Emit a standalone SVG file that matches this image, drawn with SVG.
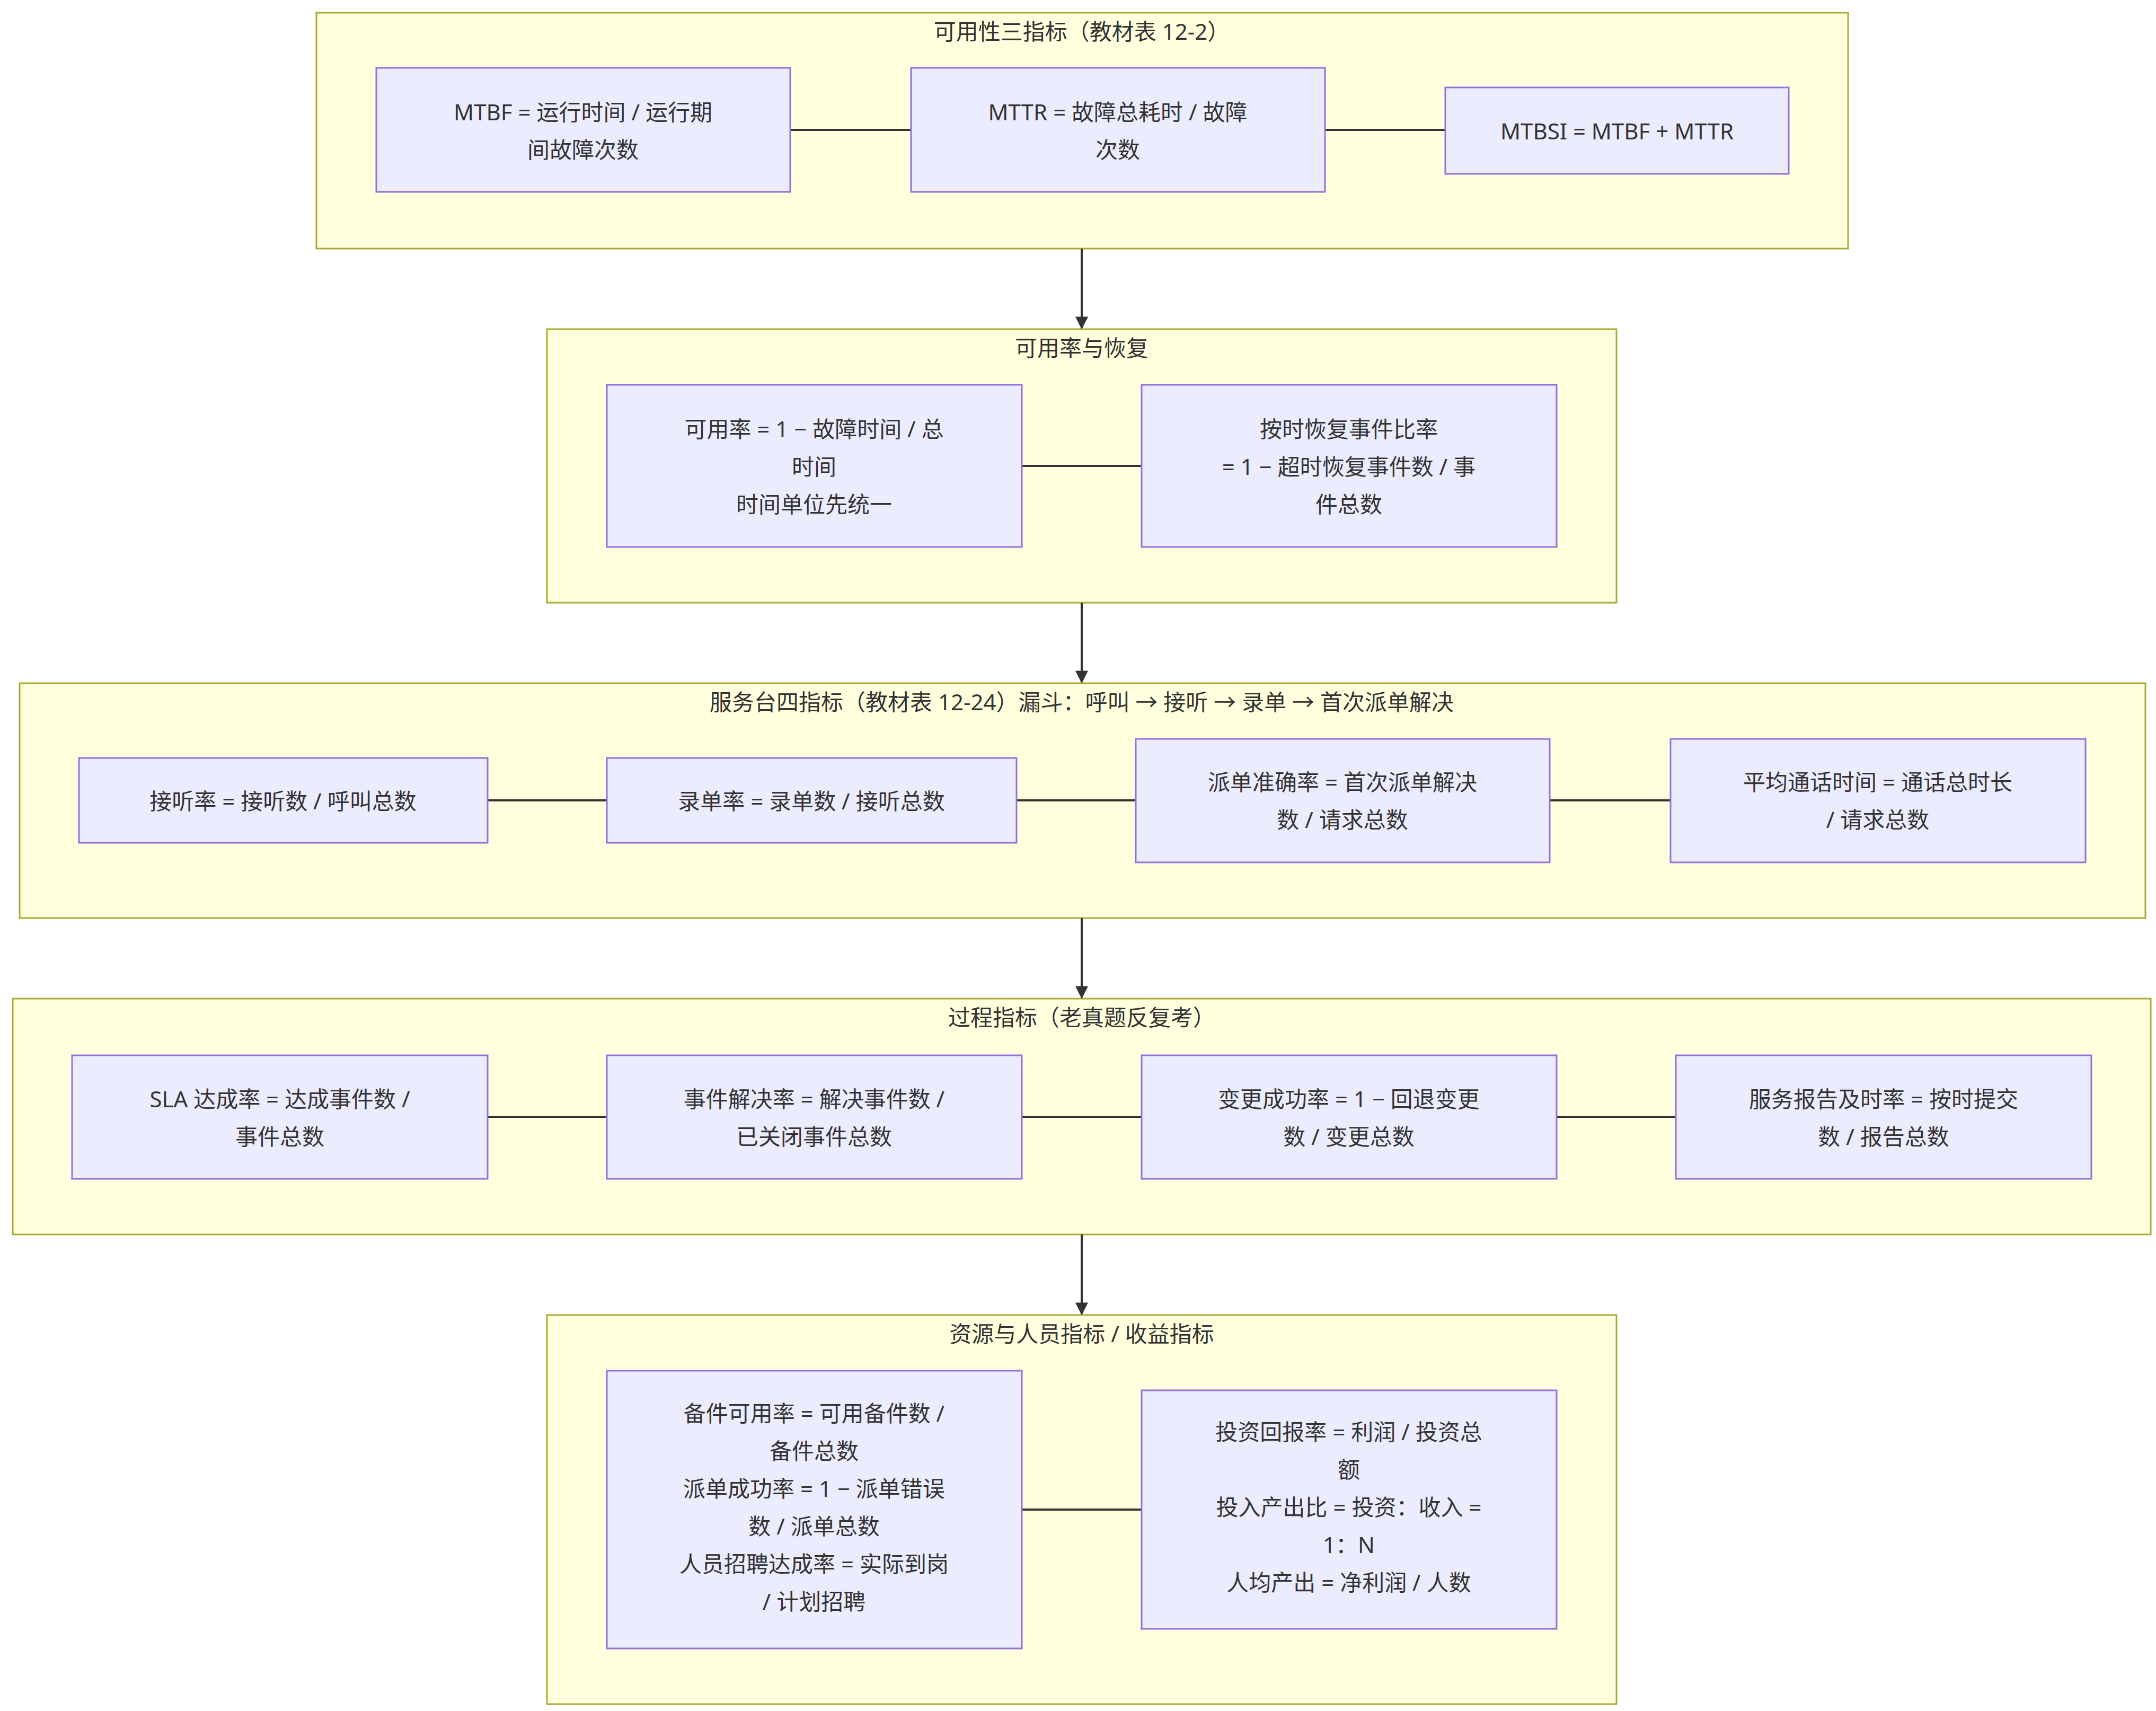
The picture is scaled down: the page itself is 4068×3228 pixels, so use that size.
<svg xmlns="http://www.w3.org/2000/svg" width="4068" height="3228" viewBox="0 0 4068 3228">
<style>
.c{fill:#ffffde;stroke:#aaaa33;stroke-width:3}
.n{fill:#ececff;stroke:#9370db;stroke-width:3}
text{font-family:"Noto Sans","Noto Sans CJK SC",sans-serif;font-size:42px;fill:#333;text-anchor:middle;dominant-baseline:central}
.e{stroke:#333;stroke-width:4;fill:none}
</style>
<defs><marker id="a" viewBox="0 0 10 10" refX="9" refY="5" markerWidth="6" markerHeight="6" orient="auto" markerUnits="strokeWidth"><path d="M0,0L10,5L0,10z" fill="#333"/></marker></defs>
<rect width="4068" height="3228" fill="#fff"/>
<g id="clusters">
<g id="g1"><rect class="c" x="597" y="24" width="2890" height="445"/><text x="2041" y="58">可用性三指标（教材表 12-2）</text></g>
<g id="g2"><rect class="c" x="1032" y="621" width="2018" height="516"/><text x="2041" y="655">可用率与恢复</text></g>
<g id="g3"><rect class="c" x="37" y="1289" width="4011" height="443"/><text x="2041" y="1323">服务台四指标（教材表 12-24）漏斗：呼叫 → 接听 → 录单 → 首次派单解决</text></g>
<g id="g4"><rect class="c" x="24" y="1884" width="4034" height="445"/><text x="2041" y="1918">过程指标（老真题反复考）</text></g>
<g id="g5"><rect class="c" x="1032" y="2481" width="2018" height="734"/><text x="2041" y="2515">资源与人员指标 / 收益指标</text></g>
</g>
<g id="connectors">
<path class="e" d="M1491 245H1719M2500 245H2727M1928 879H2154M920 1510H1145M1918 1510H2143M2924 1510H3152M920 2107H1145M1928 2107H2154M2937 2107H3162M1928 2848H2154"/>
<path class="e" marker-end="url(#a)" d="M2041 469V619"/>
<path class="e" marker-end="url(#a)" d="M2041 1137V1287"/>
<path class="e" marker-end="url(#a)" d="M2041 1732V1882"/>
<path class="e" marker-end="url(#a)" d="M2041 2329V2479"/>
</g>
<g id="n1"><rect class="n" x="710" y="128" width="781" height="234"/><text x="1100" y="210">MTBF = 运行时间 / 运行期</text><text x="1100" y="281">间故障次数</text></g>
<g id="n2"><rect class="n" x="1719" y="128" width="781" height="234"/><text x="2109" y="210">MTTR = 故障总耗时 / 故障</text><text x="2109" y="281">次数</text></g>
<g id="n3"><rect class="n" x="2727" y="165" width="648" height="163"/><text x="3051" y="246">MTBSI = MTBF + MTTR</text></g>
<g id="n4"><rect class="n" x="1145" y="726" width="783" height="306"/><text x="1536" y="808">可用率 = 1 − 故障时间 / 总</text><text x="1536" y="879">时间</text><text x="1536" y="950">时间单位先统一</text></g>
<g id="n5"><rect class="n" x="2154" y="726" width="783" height="306"/><text x="2545" y="808">按时恢复事件比率</text><text x="2545" y="879">= 1 − 超时恢复事件数 / 事</text><text x="2545" y="950">件总数</text></g>
<g id="n6"><rect class="n" x="149" y="1430" width="771" height="160"/><text x="534" y="1510">接听率 = 接听数 / 呼叫总数</text></g>
<g id="n7"><rect class="n" x="1145" y="1430" width="773" height="160"/><text x="1531" y="1510">录单率 = 录单数 / 接听总数</text></g>
<g id="n8"><rect class="n" x="2143" y="1394" width="781" height="233"/><text x="2533" y="1474">派单准确率 = 首次派单解决</text><text x="2533" y="1545">数 / 请求总数</text></g>
<g id="n9"><rect class="n" x="3152" y="1394" width="783" height="233"/><text x="3543" y="1474">平均通话时间 = 通话总时长</text><text x="3543" y="1545">/ 请求总数</text></g>
<g id="n10"><rect class="n" x="136" y="1991" width="784" height="233"/><text x="528" y="2072">SLA 达成率 = 达成事件数 /</text><text x="528" y="2143">事件总数</text></g>
<g id="n11"><rect class="n" x="1145" y="1991" width="783" height="233"/><text x="1536" y="2072">事件解决率 = 解决事件数 /</text><text x="1536" y="2143">已关闭事件总数</text></g>
<g id="n12"><rect class="n" x="2154" y="1991" width="783" height="233"/><text x="2545" y="2072">变更成功率 = 1 − 回退变更</text><text x="2545" y="2143">数 / 变更总数</text></g>
<g id="n13"><rect class="n" x="3162" y="1991" width="784" height="233"/><text x="3554" y="2072">服务报告及时率 = 按时提交</text><text x="3554" y="2143">数 / 报告总数</text></g>
<g id="n14"><rect class="n" x="1145" y="2586" width="783" height="524"/><text x="1536" y="2665">备件可用率 = 可用备件数 /</text><text x="1536" y="2736">备件总数</text><text x="1536" y="2807">派单成功率 = 1 − 派单错误</text><text x="1536" y="2878">数 / 派单总数</text><text x="1536" y="2949">人员招聘达成率 = 实际到岗</text><text x="1536" y="3020">/ 计划招聘</text></g>
<g id="n15"><rect class="n" x="2154" y="2623" width="783" height="450"/><text x="2545" y="2700">投资回报率 = 利润 / 投资总</text><text x="2545" y="2771">额</text><text x="2545" y="2842">投入产出比 = 投资：收入 =</text><text x="2545" y="2913">1：N</text><text x="2545" y="2984">人均产出 = 净利润 / 人数</text></g>
</svg>
